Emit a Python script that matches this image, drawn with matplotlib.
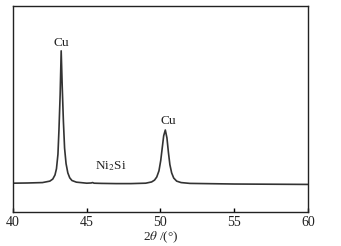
import matplotlib
matplotlib.use("Agg")
import matplotlib.pyplot as plt

plt.rcParams['font.family'] = ['Liberation Serif', 'DejaVu Serif']
plt.rcParams['mathtext.fontset'] = 'stix'

# XRD pattern (2theta in degrees, intensity a.u.)
two_theta = [40.0, 41.0, 42.0, 42.5, 42.7, 42.85, 42.95, 43.05, 43.12, 43.2,
             43.27, 43.34, 43.42, 43.5, 43.6, 43.72, 43.85, 44.0, 44.3, 45.0,
             45.3, 45.4, 45.5, 46.0, 47.0, 48.0, 49.0, 49.4, 49.6, 49.75,
             49.9, 50.02, 50.12, 50.22, 50.33, 50.44, 50.54, 50.64, 50.76, 50.9,
             51.1, 51.4, 52.0, 55.0, 60.0]
intensity = [140, 141, 143, 150, 160, 180, 210, 280, 400, 570,
             782, 610, 440, 310, 235, 190, 166, 153, 145, 140,
             141, 143, 140, 139, 138, 138, 140, 146, 155, 170,
             200, 250, 310, 370, 398, 360, 290, 230, 190, 165,
             150, 143, 139, 136, 134]

peak_labels = ["Cu", "Ni$_2$Si", "Cu"]
label_x = [43.3, 46.65, 50.5]
label_y = [820, 225, 442]

fig = plt.figure(figsize=(3.41, 2.46), dpi=100)
ax = fig.add_axes([0.038, 0.138, 0.865, 0.838])

ax.plot(two_theta, intensity, color='#333333', lw=1.2)
for txt, x, y in zip(peak_labels, label_x, label_y):
    ax.text(x, y, txt, ha='center', va='center', fontsize=9.5, color='#222222')

ax.set_xlim(40, 60)
ax.set_ylim(0, 1000)
ax.set_xticks([40, 45, 50, 55, 60])
ax.set_yticks([])
ax.tick_params(axis='x', direction='in', length=3, width=1, labelsize=10,
               pad=3, labelcolor='#222222')
for s in ax.spines.values():
    s.set_linewidth(1.0)
    s.set_color('#222222')
ax.set_xlabel(r'2$\theta$ /(°)', fontsize=9.5, labelpad=0, color='#222222')

fig.savefig('out.png', dpi=100)
